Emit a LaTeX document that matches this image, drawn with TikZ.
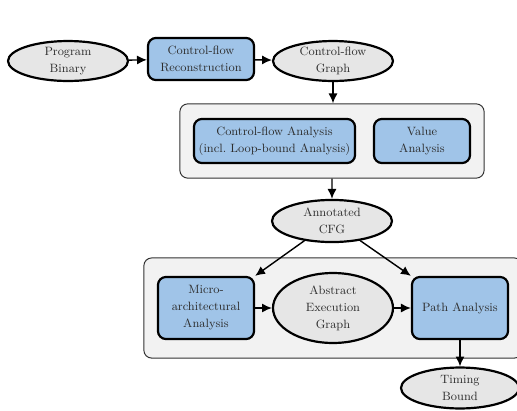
\documentclass[tikz,border=0pt]{standalone}
\usepackage{tikz}
\usetikzlibrary{arrows.meta,positioning,shapes.geometric,fit,backgrounds}
\definecolor{boxblue}{RGB}{160,196,232}
\definecolor{ovalgray}{RGB}{230,230,230}
\definecolor{groupgray}{RGB}{242,242,242}
\definecolor{inkgray}{RGB}{45,45,45}

\begin{document}
\begin{tikzpicture}[x=0.706pt,y=-0.706pt,
    data/.style={ellipse,draw=black,line width=1.55pt,fill=ovalgray,text=inkgray,
      font=\fontsize{8.5}{12}\selectfont,align=center,inner sep=0pt,minimum width=84.7pt,minimum height=28.2pt},
    tool/.style={rectangle,rounded corners=5.6pt,draw=black,line width=1.55pt,fill=boxblue,
      text=inkgray,font=\fontsize{8.5}{12}\selectfont,align=center,inner sep=1.4pt},
    stage/.style={rectangle,rounded corners=5.6pt,draw=black!80,line width=0.7pt,fill=groupgray,
      inner xsep=9.2pt,inner ysep=9.9pt},
    flow/.style={-{Latex[length=7pt,width=6.4pt]},line width=1pt}]
        \useasboundingbox (0,0) rectangle (517,410);
        % first row
        \node[data] (prog) at (68,61) {Program\\Binary};
        \node[tool,minimum width=74.8pt,minimum height=29.7pt] (recon) at (201,59) {Control-flow\\Reconstruction};
        \node[data] (cfg) at (333,61) {Control-flow\\Graph};
        % value and control-flow analyses
        \node[tool,minimum width=113.7pt,minimum height=31.1pt] (cfa) at (274.5,141) {Control-flow Analysis\\(incl.\ Loop-bound Analysis)};
        \node[tool,minimum width=67.8pt,minimum height=31.1pt] (value) at (422,141) {Value\\Analysis};
        \node[data,minimum height=29.7pt] (acfg) at (332,221) {Annotated\\CFG};
        % micro-architecture and path analysis
        \node[tool,minimum width=67.8pt,minimum height=43.8pt] (micro) at (206,308) {Micro-\\architectural\\Analysis};
        \node[data,minimum height=49.4pt] (aeg) at (333,308) {Abstract\\Execution\\Graph};
        \node[tool,minimum width=67.8pt,minimum height=43.8pt] (path) at (460,308) {Path Analysis};
        \node[data,minimum width=83.3pt,minimum height=28.9pt] (timing) at (460,388) {Timing\\Bound};
        \begin{scope}[on background layer]
          \node[stage,fit=(cfa)(value)] (stageA) {};
          \node[stage,fit=(micro)(aeg)(path)] (stageB) {};
        \end{scope}
        \draw[flow] (prog) -- (recon);
        \draw[flow] (recon) -- (cfg);
        \draw[flow] (cfg.south) -- (cfg.south |- stageA.north);
        \draw[flow] (stageA.south) -- (acfg);
        \draw[flow] (acfg) -- (micro.north east);
        \draw[flow] (acfg) -- (path.north west);
        \draw[flow] (micro) -- (aeg);
        \draw[flow] (aeg) -- (path);
        \draw[flow] (path) -- (timing);
      \end{tikzpicture}
\end{document}
